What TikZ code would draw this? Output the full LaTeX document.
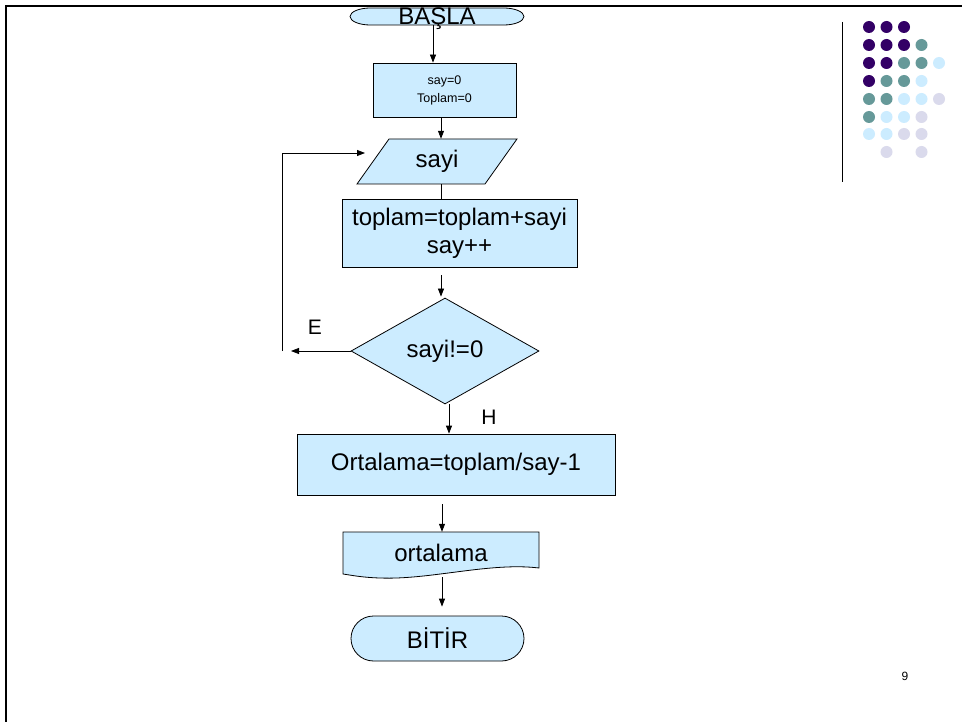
\documentclass[tikz,border=0pt]{standalone}
\usepackage{fontspec}
\setmainfont{Liberation Sans}
\usetikzlibrary{shapes.geometric,shapes.misc,arrows.meta}
\definecolor{fillblue}{HTML}{CCECFF}
\definecolor{dpurple}{HTML}{330066}
\definecolor{dteal}{HTML}{669999}
\definecolor{dlight}{HTML}{CCECFF}
\definecolor{dlav}{HTML}{DADAEC}
\begin{document}
\begin{tikzpicture}[x=1pt,y=-1pt,
  shapebox/.style={draw=black, line width=0.8pt, fill=fillblue, inner sep=0pt},
  shapefill/.style={draw=black, line width=0.8pt, fill=fillblue},
  procbox/.style={shapebox, rectangle, align=center, font=\fontsize{24}{28}\selectfont},
  term/.style={shapebox, rounded rectangle, font=\fontsize{24}{28}\selectfont},
  lbl/.style={inner sep=0pt, font=\fontsize{24}{28}\selectfont},
  lblsmall/.style={inner sep=0pt, font=\fontsize{21}{24}\selectfont},
  conn/.style={line width=0.8pt, draw=black},
  arr/.style={conn, -{Triangle[length=8pt,width=6pt]}},
  dotP/.style={fill=dpurple},
  dotT/.style={fill=dteal},
  dotL/.style={fill=dlight},
  dotV/.style={fill=dlav}
]
\fill[white] (0,0) rectangle (962,722);
\useasboundingbox (0,0) rectangle (962,722);

% start terminal (flat, with elliptic ends)
\path[shapefill] (370,8) -- (504,8) .. controls (515,8) and (524,12) .. (524,16.5)
  .. controls (524,21) and (515,25) .. (504,25) -- (370,25)
  .. controls (359,25) and (350,21) .. (350,16.5)
  .. controls (350,12) and (359,8) .. (370,8) -- cycle;
\node[rectangle, inner sep=0pt, minimum width=174pt, minimum height=17pt] (basla) at (437,16.5) {};
\node[lbl, anchor=base] (baslatxt) at ([yshift=-8pt]basla.center) {BAŞLA};

% init box
\node[procbox, minimum width=143pt, minimum height=54pt, font=\fontsize{12.5}{18}\selectfont] (b1) at (444.5,90) {say=0\\Toplam=0};

% input parallelogram
\path[shapefill] (389,139) -- (517,139) -- (485,184) -- (357,184) -- cycle;
\node[lbl, minimum width=128pt, minimum height=45pt] (inp) at (437,161.5) {sayi};

% process box
\node[procbox, minimum width=235pt, minimum height=68pt] (b2) at (459.5,233) {toplam=toplam+sayi\\say++};

% decision
\node[shapebox, diamond, minimum width=188pt, minimum height=106pt, font=\fontsize{24}{28}\selectfont] (dec) at (445,351) {sayi!=0};

% average box
\node[procbox, minimum width=318pt, minimum height=61pt] (b3) at (456,464.5) {Ortalama=toplam/say-1};

% document shape
\path[shapefill] (343,532) -- (539,532) -- (539,568)
  .. controls (490,562) and (430,580) .. (380,578)
  .. controls (362,577.5) and (350,575) .. (343,574) -- cycle;
\node[lbl, minimum width=196pt, minimum height=42pt] (doc) at (441,553) {ortalama};

% end terminal
\node[term, minimum width=173pt, minimum height=45pt] (bitir) at (437.5,638.5) {BİTİR};

% connectors
\draw[arr] ([xshift=-4pt]basla.south) -- ([xshift=-4pt]basla.south |- b1.north);
\draw[arr] ([xshift=-3.5pt]b1.south) -- ([xshift=4pt]inp.north);
\draw[conn] ([xshift=4pt]inp.south) -- ([xshift=-18.5pt]b2.north);
\draw[arr, shorten <=8pt, shorten >=1pt] ([xshift=-18.5pt]b2.south) -- ([xshift=-4pt]dec.north);
\coordinate (eend) at (291,351);
\draw[arr] (dec.west) -- (eend);
\coordinate (lp1) at (282,351);
\coordinate (lp2) at (282,153);
\coordinate (lp3) at (365,153);
\draw[arr] (lp1) -- (lp2) -- (lp3);
\draw[arr] ([xshift=4pt]dec.south) -- ([xshift=-7pt]b3.north);
\draw[arr, shorten <=9pt] ([xshift=-14pt]b3.south) -- ([xshift=1pt]doc.north);
\draw[arr, shorten <=3pt, shorten >=9pt] ([xshift=1pt]doc.south) -- ([xshift=4.5pt]bitir.north);

% branch labels
\node[lblsmall] (elbl) at (315,327) {E};
\node[lblsmall] (hlbl) at (489,417) {H};

% page number
\node[inner sep=0pt, font=\fontsize{12}{14}\selectfont] (pnum) at (905,676) {9};

% decoration
\draw[line width=1pt] (842,22) -- (842,182);
\foreach \c/\cx/\cy in {
  P/869/27, P/886.5/27, P/904/27,
  P/869/45, P/886.5/45, P/904/45, T/921.5/45,
  P/869/63, P/886.5/63, T/904/63, T/921.5/63, L/939/63,
  P/869/81, T/886.5/81, T/904/81, L/921.5/81,
  T/869/99, T/886.5/99, L/904/99, L/921.5/99, V/939/99,
  T/869/117, L/886.5/117, L/904/117, V/921.5/117,
  L/869/134, L/886.5/134, V/904/134, V/921.5/134,
  V/886.5/152, V/921.5/152}
  {\path[dot\c] (\cx,\cy) circle[radius=6pt];}

% slide frame
\draw[line width=2.5pt] (6,722) -- (6,6) -- (962,6);
\end{tikzpicture}
\end{document}
